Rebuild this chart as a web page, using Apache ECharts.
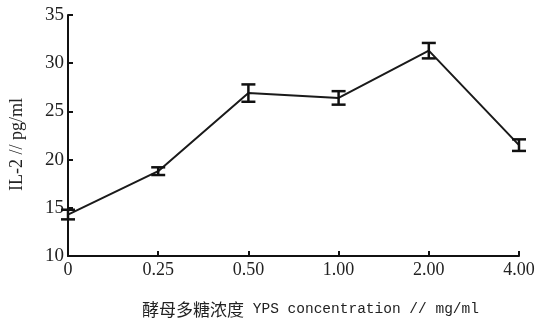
<!DOCTYPE html>
<html><head><meta charset="utf-8">
<script src="https://cdn.jsdelivr.net/npm/echarts@6/dist/echarts.min.js"></script>
<style>html,body{margin:0;padding:0;background:#fff}#c{width:538px;height:323px}</style>
</head><body><div id="c"></div>
<script>
var categories = ['0', '0.25', '0.50', '1.00', '2.00', '4.00'];
var means = [14.3, 18.8, 26.9, 26.4, 31.3, 21.5];
var errors = [0.5, 0.4, 0.9, 0.7, 0.8, 0.6];
var yTicks = [10, 15, 20, 25, 30, 35];

var chart = echarts.init(document.getElementById('c'), null, {renderer: 'canvas'});
var errData = categories.map(function (c, i) { return [i, means[i] - errors[i], means[i] + errors[i]]; });
chart.setOption({
  animation: false,
  grid: {left: 67, right: 19, top: 15, bottom: 67},
  xAxis: {
    type: 'category', data: categories, boundaryGap: false,
    axisLine: {lineStyle: {color: '#111', width: 2}},
    axisTick: {inside: true, length: 5, lineStyle: {color: '#111', width: 2}},
    axisLabel: {color: '#222', fontFamily: 'Liberation Serif', fontSize: 18, margin: 5},
    name: '{zh|酵母多糖浓度}{en| YPS concentration // mg/ml}', nameLocation: 'middle', nameGap: 45,
    nameTextStyle: {color: '#222', padding: [0, 0, 0, 34],
      rich: {
        zh: {fontFamily: 'Noto Sans CJK SC', fontSize: 17, color: '#222'},
        en: {fontFamily: 'Liberation Mono', fontSize: 14.5, color: '#222'}
      }},
    splitLine: {show: false}
  },
  yAxis: {
    type: 'value', min: 10, max: 35, interval: 5,
    axisLine: {show: true, lineStyle: {color: '#111', width: 2}},
    axisTick: {show: true, inside: true, length: 5, lineStyle: {color: '#111', width: 2}},
    axisLabel: {color: '#222', fontFamily: 'Liberation Serif', fontSize: 19, margin: 4,
      formatter: function (v) { return yTicks.indexOf(v) >= 0 ? String(v) : ''; }},
    splitLine: {show: false},
    name: 'IL-2 // pg/ml', nameLocation: 'middle', nameGap: 42,
    nameTextStyle: {color: '#222', fontFamily: 'Liberation Serif', fontSize: 18, padding: [0, 18, 0, 0]}
  },
  series: [
    {type: 'line', data: means, symbol: 'none', lineStyle: {color: '#1a1a1a', width: 2}, z: 2},
    {
      type: 'custom', data: errData, z: 3,
      renderItem: function (params, api) {
        var x = api.value(0);
        var lo = api.coord([x, api.value(1)]);
        var hi = api.coord([x, api.value(2)]);
        var w = 7;
        var st = {stroke: '#111', lineWidth: 2.5};
        return {type: 'group', children: [
          {type: 'line', shape: {x1: lo[0], y1: lo[1], x2: hi[0], y2: hi[1]}, style: st},
          {type: 'line', shape: {x1: lo[0] - w, y1: lo[1], x2: lo[0] + w, y2: lo[1]}, style: st},
          {type: 'line', shape: {x1: hi[0] - w, y1: hi[1], x2: hi[0] + w, y2: hi[1]}, style: st}
        ]};
      }
    }
  ]
});
</script></body></html>
